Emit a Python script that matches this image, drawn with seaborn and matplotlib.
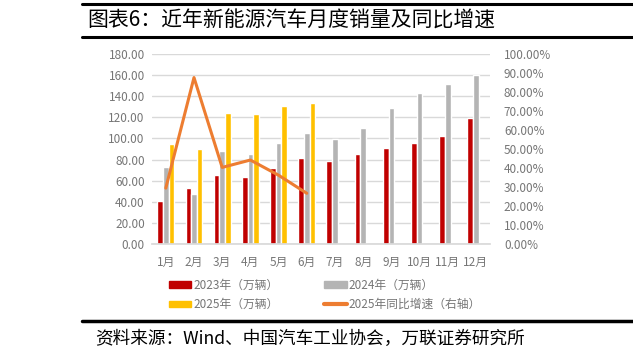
import matplotlib
matplotlib.use("Agg")
import matplotlib.pyplot as plt
from matplotlib.lines import Line2D
from matplotlib.patches import Patch
import numpy as np
import pandas as pd
import seaborn as sns

months = ["1月", "2月", "3月", "4月", "5月", "6月", "7月", "8月", "9月", "10月", "11月", "12月"]
sales_2023 = [40.7, 52.7, 65.3, 63.7, 71.6, 81.1, 78.5, 84.9, 90.5, 95.9, 102.5, 119.6]
sales_2024 = [73.2, 47.7, 88.3, 85.2, 95.9, 105.4, 99.4, 109.8, 128.7, 142.9, 151.4, 159.9]
sales_2025 = [94.6, 89.6, 124.0, 122.7, 131.2, 133.4, None, None, None, None, None, None]
growth_2025 = [29.4, 87.6, 40.3, 44.2, 36.2, 26.7]  # %

series_names = ["2023年（万辆）", "2024年（万辆）", "2025年（万辆）"]
line_name = "2025年同比增速（右轴）"
colors = ["#C00000", "#B4B4B4", "#FFC000"]
line_color = "#ED7D31"
tick_color = "#767676"

sns.set_theme(style="white")
plt.rcParams["font.family"] = ["Noto Sans CJK SC", "DejaVu Sans"]
plt.rcParams["axes.unicode_minus"] = False

rows = []
for name, vals in zip(series_names, [sales_2023, sales_2024, sales_2025]):
    for m, v in zip(months, vals):
        rows.append({"month": m, "series": name, "value": np.nan if v is None else v})
df = pd.DataFrame(rows)

W, H = 633, 358
fig = plt.figure(figsize=(W / 100, H / 100), dpi=100)
ax = fig.add_axes([151.7 / W, 1 - 244 / H, (490 - 151.7) / W, (244 - 54) / H])

sns.barplot(data=df, x="month", y="value", hue="series", order=months,
            hue_order=series_names, palette=colors, width=0.6, dodge=True,
            saturation=1, legend=False, ax=ax)
ax.set_xlim(-0.5, len(months) - 0.5)
ax.set_ylim(0, 180)
ax.set_yticks(np.arange(0, 181, 20))
ax.set_yticklabels([f"{v:.2f}" for v in np.arange(0, 181, 20)])
ax.set_xlabel("")
ax.set_ylabel("")
ax.yaxis.grid(True, color="#D9D9D9", lw=1)
ax.set_axisbelow(True)
for s in ["top", "right", "left"]:
    ax.spines[s].set_visible(False)
ax.spines["bottom"].set_color("#D9D9D9")
ax.tick_params(axis="both", length=0, labelsize=8.5, labelcolor=tick_color, pad=5)
ax.tick_params(axis="x", pad=8.5)

ax2 = ax.twinx()
sns.lineplot(x=np.arange(len(growth_2025)), y=growth_2025, color=line_color,
             lw=2.2, ax=ax2)
ax2.set_ylim(0, 100)
ax2.set_yticks(np.arange(0, 101, 10))
ax2.set_yticklabels([f"{v:.2f}%" for v in np.arange(0, 101, 10)])
ax2.tick_params(axis="y", length=0, labelsize=8.5, labelcolor=tick_color, pad=10)
ax2.grid(False)
for s in ax2.spines.values():
    s.set_visible(False)

handles = [
    Patch(color=colors[0], label=series_names[0]),
    Patch(color=colors[2], label=series_names[2]),
    Patch(color=colors[1], label=series_names[1]),
    Line2D([], [], color=line_color, lw=3, label=line_name),
]
fig.legend(handles=handles, ncol=2, loc="upper left",
           bbox_to_anchor=(158 / W, 1 - 268 / H), frameon=False,
           fontsize=8.5, labelcolor=tick_color, handlelength=1.9,
           handleheight=0.45, handletextpad=0.2, columnspacing=3.85,
           labelspacing=0.55)

# title block and source line
fig.text(87 / W, 1 - 20.5 / H, "图表6：近年新能源汽车月度销量及同比增速",
         fontsize=15, va="center", ha="left", color="black")
for y, lw in [(4, 2.2), (36.5, 2.2), (321, 2.5)]:
    fig.add_artist(Line2D([82 / W, 1], [1 - y / H] * 2, color="black", lw=lw,
                          transform=fig.transFigure))
fig.text(95 / W, 1 - 339 / H, "资料来源：Wind、中国汽车工业协会，万联证券研究所",
         fontsize=12.7, va="center", ha="left", color="black", style="italic")

fig.savefig("out.png", dpi=100)
